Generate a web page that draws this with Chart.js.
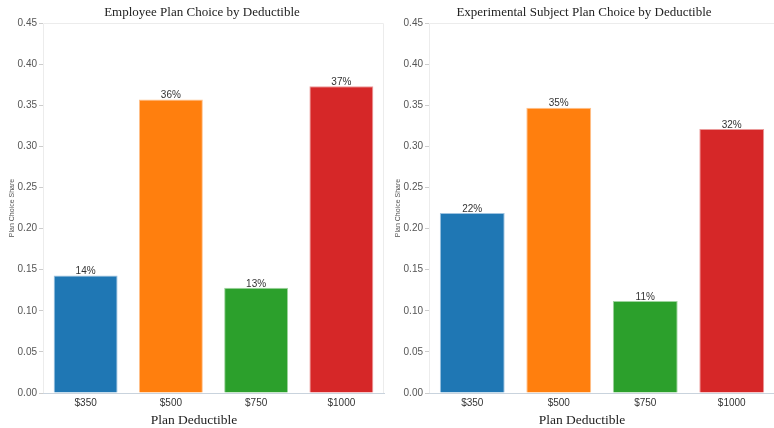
<!DOCTYPE html>
<html>
<head>
<meta charset="utf-8">
<script src="https://cdn.jsdelivr.net/npm/chart.js@4/dist/chart.umd.min.js"></script>
<style>
  body { margin: 0; background: #fff; width: 774px; height: 428px; position: relative; overflow: hidden; }
  .box { position: absolute; top: 0; height: 428px; }
  .ttl { position: absolute; font-family: "Liberation Serif", serif; color: #222; white-space: nowrap; transform: translateX(-50%); }
</style>
</head>
<body>

<div class="box" style="left:0;width:387px"><canvas id="employeeChart"></canvas></div>
<div class="box" style="left:386px;width:389px"><canvas id="subjectChart"></canvas></div>

<div class="ttl" style="left:202px;top:4px;font-size:13px">Employee Plan Choice by Deductible</div>
<div class="ttl" style="left:584px;top:4px;font-size:13px">Experimental Subject Plan Choice by Deductible</div>
<div class="ttl" style="left:194px;top:412px;font-size:13.5px">Plan Deductible</div>
<div class="ttl" style="left:582px;top:412px;font-size:13.5px">Plan Deductible</div>

<script>
//categories and shares
var deductibles = ['$350', '$500', '$750', '$1000'];
var employeeShare = [0.143, 0.357, 0.128, 0.373];
var subjectShare = [0.219, 0.347, 0.112, 0.321];
var barColors = ['#1f77b4', '#ff7f0e', '#2ca02c', '#d62728'];
var edgeColors = ['#9ec3e0', '#ffc18c', '#9fd49f', '#eb9a9a'];

//light frame around the plot area
var plotFrame = {
    id: 'plotFrame',
    beforeDatasetsDraw(chart) {
        const a = chart.chartArea;
        const ctx = chart.ctx;
        ctx.save();
        ctx.strokeStyle = '#ececec';
        ctx.lineWidth = 1;
        ctx.beginPath();
        ctx.moveTo(a.left + 0.5, a.bottom);
        ctx.lineTo(a.left + 0.5, a.top + 0.5);
        ctx.lineTo(a.right - 0.5, a.top + 0.5);
        ctx.lineTo(a.right - 0.5, a.bottom);
        ctx.stroke();
        ctx.restore();
    }
};

//percent label above each bar
var barLabels = {
    id: 'barLabels',
    afterDatasetsDraw(chart) {
        const ctx = chart.ctx;
        const meta = chart.getDatasetMeta(0);
        const values = chart.data.datasets[0].data;
        ctx.save();
        ctx.font = '10px "Liberation Sans", Arial, sans-serif';
        ctx.fillStyle = '#333';
        ctx.textAlign = 'center';
        ctx.textBaseline = 'bottom';
        meta.data.forEach(function (bar, i) {
            ctx.fillText(Math.round(values[i] * 100) + '%', bar.x, bar.y + 1);
        });
        ctx.restore();
    }
};

function plot(element, values, rightPad) {
    const ctx = document.getElementById(element).getContext('2d');
    return new Chart(ctx, {
        type: 'bar',
        data: {
            labels: deductibles,
            datasets: [{
                data: values,
                backgroundColor: barColors,
                borderColor: edgeColors,
                borderWidth: 1,
                barPercentage: 0.75,
                categoryPercentage: 1
            }]
        },
        options: {
            responsive: true,
            maintainAspectRatio: false,
            animation: false,
            layout: { padding: { top: 23, right: rightPad, left: 0, bottom: 0 } },
            plugins: {
                legend: { display: false },
                tooltip: { enabled: false }
            },
            scales: {
                x: {
                    grid: { display: false, drawTicks: false },
                    border: { display: true, color: '#c9d3dd' },
                    ticks: {
                        padding: 4,
                        color: '#333',
                        font: { family: '"Liberation Sans", Arial, sans-serif', size: 10 }
                    },
                    afterFit(scale) { scale.height = 35; }
                },
                y: {
                    min: 0,
                    max: 0.45,
                    ticks: {
                        stepSize: 0.05,
                        padding: 2,
                        color: '#555',
                        font: { family: '"Liberation Sans", Arial, sans-serif', size: 10 },
                        callback: function (v) { return v.toFixed(2); }
                    },
                    grid: { drawOnChartArea: false, tickLength: 4, color: '#cccccc' },
                    border: { display: false },
                    title: {
                        display: true,
                        text: 'Plan Choice Share',
                        color: '#555',
                        padding: { top: 8, bottom: 0 },
                        font: { family: '"Liberation Sans", Arial, sans-serif', size: 7 }
                    },
                    afterFit(scale) { scale.width = 43; }
                }
            }
        },
        plugins: [plotFrame, barLabels]
    });
}

plot('employeeChart', employeeShare, 3);
plot('subjectChart', subjectShare, 0);
</script>
</body>
</html>
